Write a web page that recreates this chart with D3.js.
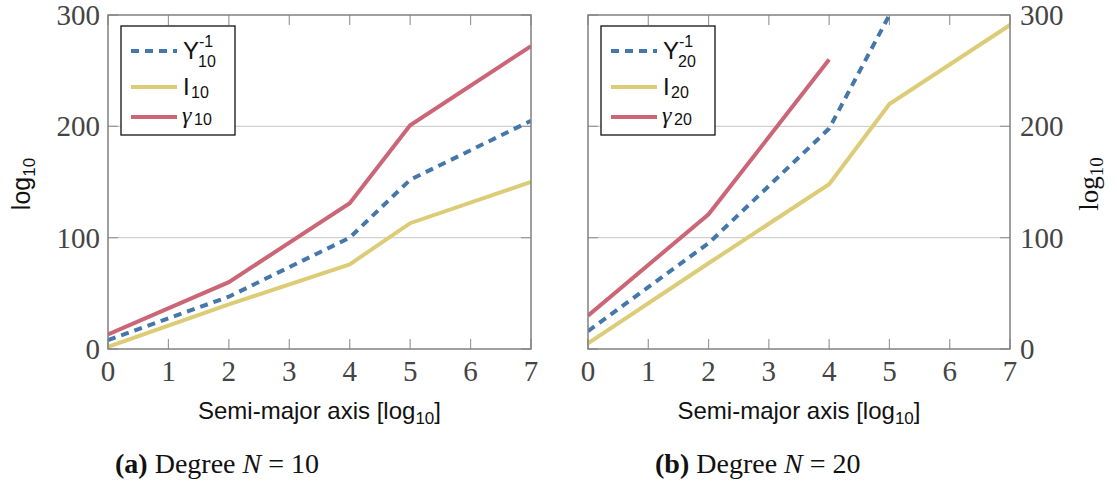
<!DOCTYPE html>
<html>
<head>
<meta charset="utf-8">
<script src="https://cdn.jsdelivr.net/npm/d3@7"></script>
<style>
  body { margin: 0; background: #fff; }
  .serif { font-family: "Liberation Serif", "DejaVu Serif", serif; fill: #444; }
  .sans { font-family: "Liberation Sans", "DejaVu Sans", sans-serif; fill: #111; }
</style>
</head>
<body>
<div id="chart"></div>
<script>
// values
const xVals = [0, 2, 4, 5, 7];
const xTicks = [0, 1, 2, 3, 4, 5, 6, 7];
const yTicks = [0, 100, 200, 300];

const invY10 = [8, 47, 100, 152, 205];
const i10 = [2, 40, 76, 113, 150];
const gamma10 = [13, 60, 131, 201, 272];

const invY20 = [16, 95, 198, 300];
const i20 = [5, 77, 148, 220, 291];
const gamma20 = [30, 121, 260];

const colors = { invY: "#4477aa", I: "#ddcc77", gamma: "#cc6677" };

const width = 1117, height = 486;
const svg = d3.select("#chart").append("svg")
  .attr("width", width)
  .attr("height", height);

const plotTop = 15, plotBottom = 349;

function drawPanel(p) {
  const x = d3.scaleLinear().domain([0, 7]).range([p.left, p.right]);
  const y = d3.scaleLinear().domain([0, 300]).range([plotBottom, plotTop]);
  const g = svg.append("g");

  g.append("clipPath").attr("id", "clip" + p.id)
    .append("rect")
    .attr("x", p.left).attr("y", plotTop)
    .attr("width", p.right - p.left).attr("height", plotBottom - plotTop);

  // horizontal grid
  g.selectAll(".grid").data([100, 200]).enter().append("line")
    .attr("x1", p.left).attr("x2", p.right)
    .attr("y1", d => y(d)).attr("y2", d => y(d))
    .attr("stroke", "#d0d0d0").attr("stroke-width", 1.2);

  // ticks, inside, on all sides
  xTicks.forEach(t => {
    g.append("line").attr("x1", x(t)).attr("x2", x(t))
      .attr("y1", plotBottom).attr("y2", plotBottom - 10)
      .attr("stroke", "#999").attr("stroke-width", 1.2);
    g.append("line").attr("x1", x(t)).attr("x2", x(t))
      .attr("y1", plotTop).attr("y2", plotTop + 10)
      .attr("stroke", "#999").attr("stroke-width", 1.2);
  });
  yTicks.forEach(t => {
    g.append("line").attr("x1", p.left).attr("x2", p.left + 10)
      .attr("y1", y(t)).attr("y2", y(t))
      .attr("stroke", "#999").attr("stroke-width", 1.2);
    g.append("line").attr("x1", p.right).attr("x2", p.right - 10)
      .attr("y1", y(t)).attr("y2", y(t))
      .attr("stroke", "#999").attr("stroke-width", 1.2);
  });

  // series
  const line = d3.line().x(d => x(d[0])).y(d => y(d[1]));
  const series = [
    { vals: p.invY, color: colors.invY, dash: "8,6" },
    { vals: p.I, color: colors.I, dash: null },
    { vals: p.gamma, color: colors.gamma, dash: null }
  ];
  series.forEach(s => {
    g.append("path")
      .datum(s.vals.map((v, i) => [xVals[i], v]))
      .attr("d", line)
      .attr("fill", "none")
      .attr("stroke", s.color)
      .attr("stroke-width", 4)
      .attr("stroke-dasharray", s.dash)
      .attr("clip-path", `url(#clip${p.id})`);
  });

  // frame
  g.append("rect")
    .attr("x", p.left).attr("y", plotTop)
    .attr("width", p.right - p.left).attr("height", plotBottom - plotTop)
    .attr("fill", "none").attr("stroke", "#808080").attr("stroke-width", 1.5);

  // x tick labels
  g.selectAll(".xl").data(xTicks).enter().append("text")
    .attr("class", "serif")
    .attr("x", d => x(d)).attr("y", 381)
    .attr("text-anchor", "middle")
    .attr("font-size", 29)
    .text(d => d);

  // y tick labels
  g.selectAll(".yl").data(yTicks).enter().append("text")
    .attr("class", "serif")
    .attr("x", p.yLabelsRight ? p.right + 10 : p.left - 8)
    .attr("y", d => y(d) + 10)
    .attr("text-anchor", p.yLabelsRight ? "start" : "end")
    .attr("font-size", 29)
    .text(d => d);

  // x axis label
  const xl = g.append("text").attr("class", "sans")
    .attr("x", (p.left + p.right) / 2).attr("y", 419)
    .attr("text-anchor", "middle").attr("font-size", 24);
  xl.append("tspan").text("Semi-major axis [log");
  xl.append("tspan").attr("font-size", 17).attr("dy", 5).text("10");
  xl.append("tspan").attr("dy", -5).text("]");

  // y axis label
  const yl = g.append("text")
    .attr("class", p.yLabelsRight ? "serif" : "sans")
    .attr("transform", `translate(${p.yTitleX},184) rotate(-90)`)
    .attr("text-anchor", "middle")
    .attr("font-size", p.yLabelsRight ? 27 : 25)
    .style("fill", "#111");
  yl.append("tspan").text("log");
  yl.append("tspan").attr("font-size", p.yLabelsRight ? 19 : 17).attr("dy", 5).text("10");

  // legend
  const lx = p.left + 13, ly = 26;
  g.append("rect")
    .attr("x", lx).attr("y", ly).attr("width", 114).attr("height", 109)
    .attr("fill", "#fff").attr("stroke", "#111").attr("stroke-width", 1.3);
  const rows = [51, 87, 117];
  series.forEach((s, i) => {
    g.append("line")
      .attr("x1", lx + 10).attr("x2", lx + 56)
      .attr("y1", rows[i]).attr("y2", rows[i])
      .attr("stroke", s.color).attr("stroke-width", 4)
      .attr("stroke-dasharray", s.dash);
  });
  const tx = lx + 62;
  g.append("text").attr("class", "sans").attr("x", tx).attr("y", 59)
    .attr("font-size", 24).text("Y");
  g.append("text").attr("class", "sans").attr("x", tx + 16).attr("y", 47)
    .attr("font-size", 16).text("-1");
  g.append("text").attr("class", "sans").attr("x", tx + 15).attr("y", 67)
    .attr("font-size", 16).text(p.n);
  g.append("text").attr("class", "sans").attr("x", tx).attr("y", 95)
    .attr("font-size", 24).text("I");
  g.append("text").attr("class", "sans").attr("x", tx + 8).attr("y", 98)
    .attr("font-size", 16).text(p.n);
  g.append("text").attr("class", "serif").attr("x", tx - 1).attr("y", 123)
    .attr("font-size", 24).attr("font-style", "italic").style("fill", "#111").text("γ");
  g.append("text").attr("class", "sans").attr("x", tx + 11).attr("y", 125)
    .attr("font-size", 16).text(p.n);

  // caption
  const cap = g.append("text").attr("class", "serif")
    .attr("x", p.capX).attr("y", 473)
    .attr("font-size", 28).style("fill", "#111");
  cap.append("tspan").attr("font-weight", "bold").text(p.tag);
  cap.append("tspan").text(" Degree ");
  cap.append("tspan").attr("font-style", "italic").text("N");
  cap.append("tspan").text(" = " + p.n);
}

drawPanel({ id: "a", left: 108, right: 531, invY: invY10, I: i10, gamma: gamma10,
  n: "10", yLabelsRight: false, yTitleX: 30, capX: 115, tag: "(a)" });
drawPanel({ id: "b", left: 588, right: 1010, invY: invY20, I: i20, gamma: gamma20,
  n: "20", yLabelsRight: true, yTitleX: 1098, capX: 655, tag: "(b)" });
</script>
</body>
</html>
